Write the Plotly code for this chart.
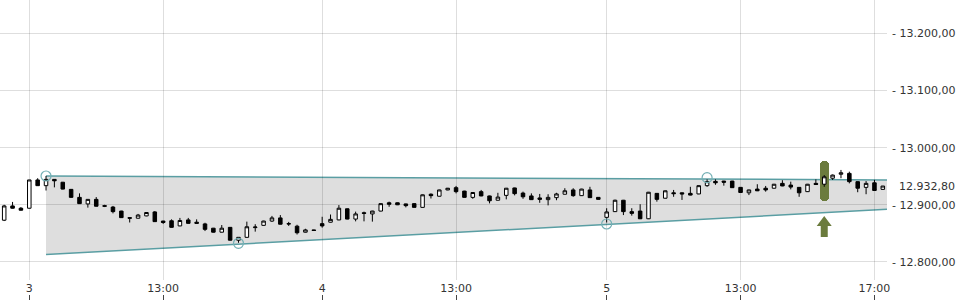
import plotly.graph_objects as go

# ---------------- data ----------------
session_days = ["2", "3", "4", "5"]
session_first_bar = ["17:00", "09:00", "09:00", "09:00"]
session_bar_count = [3, 35, 34, 34]

opens = [12873, 12898, 12894,
         12894, 12943.5, 12933.5, 12944.5, 12939.5, 12927, 12913, 12901.5, 12909.5, 12898.5,
         12896, 12889, 12877.5, 12876.5, 12880.5, 12887.5, 12871.5, 12872, 12863, 12873.5,
         12869.5, 12866.5, 12859, 12852, 12860.5, 12838, 12843, 12860, 12864, 12871.5,
         12877, 12867, 12862.5, 12852, 12856,
         12867, 12869.5, 12873.5, 12893, 12875, 12886, 12884, 12889, 12903.5, 12903.5,
         12901.5, 12902, 12895.5, 12918.5, 12915, 12926, 12930, 12924, 12913, 12923,
         12915.5, 12908, 12916.5, 12929.5, 12920.5, 12915.5, 12912, 12909, 12912.5, 12918.5,
         12926, 12916, 12926, 12913,
         12878, 12888, 12908, 12888, 12889, 12875.5, 12920, 12911.5, 12921, 12921,
         12920, 12919, 12933.5, 12941, 12941.5, 12941.5, 12930.5, 12921, 12927.5, 12929,
         12929, 12937.5, 12934.5, 12930.5, 12923, 12937.5, 12936, 12946.5, 12953.5, 12955,
         12940.5, 12930.5, 12938.5, 12927]
highs = [12900, 12905, 12896,
         12943.5, 12946.5, 12950.5, 12945, 12940, 12927.5, 12920, 12910, 12913.5, 12900,
         12898, 12889.5, 12878.5, 12884, 12887, 12889, 12872, 12874.5, 12877, 12877,
         12874.5, 12868.5, 12859.5, 12864.5, 12861, 12843.5, 12870.5, 12866, 12872, 12880.5,
         12882, 12870, 12865, 12858, 12856.5,
         12879, 12883, 12899.5, 12893.5, 12888, 12888, 12889.5, 12902.5, 12905.5, 12904,
         12902, 12902.5, 12918, 12920, 12926.5, 12929.5, 12933, 12924.5, 12922, 12926,
         12916, 12921, 12929.5, 12930, 12923, 12920, 12919, 12918.5, 12921, 12929,
         12929, 12928, 12931.5, 12913.5,
         12894, 12909, 12908.5, 12894, 12901, 12922.5, 12920.5, 12925, 12926, 12921.5,
         12931.5, 12934, 12944.5, 12944.5, 12942, 12942, 12931, 12926.5, 12936, 12933,
         12936.5, 12943, 12940.5, 12931, 12936.5, 12944.5, 12952, 12953, 12961, 12958,
         12941, 12941.5, 12943.5, 12933]
lows = [12871.5, 12893.5, 12890,
        12893.5, 12933, 12925, 12930.5, 12927, 12912.5, 12901.5, 12895, 12897, 12896,
        12885, 12877, 12869, 12876, 12880, 12870, 12866.5, 12860, 12862.5, 12867,
        12867, 12854, 12851.5, 12851.5, 12837.5, 12833.5, 12842.5, 12853, 12863.5, 12870,
        12865.5, 12863, 12848, 12851.5, 12854.5,
        12860, 12869, 12873, 12874.5, 12871, 12871, 12870.5, 12888.5, 12896.5, 12899.5,
        12895.5, 12895, 12895, 12911, 12914.5, 12925.5, 12920, 12912.5, 12910.5, 12915,
        12902.5, 12907.5, 12909.5, 12916.5, 12910.5, 12908.5, 12903.5, 12899, 12908, 12918,
        12914, 12915.5, 12912, 12909,
        12869, 12887.5, 12882, 12881, 12875, 12875, 12905.5, 12911, 12914, 12908.5,
        12916.5, 12918.5, 12931.5, 12935, 12933.5, 12929.5, 12921, 12917, 12924, 12923,
        12928.5, 12932.5, 12927, 12914, 12922.5, 12935, 12931.5, 12943.5, 12946.5, 12937.5,
        12922, 12918.5, 12924.5, 12926.5]
closes = [12898, 12894, 12890.5,
          12943.5, 12933.5, 12944.5, 12942, 12927.5, 12913, 12902, 12909.5, 12897.5, 12897.5,
          12888, 12877.5, 12876.5, 12882, 12886.5, 12870.5, 12869, 12860.5, 12872.5, 12867.5,
          12867.5, 12857, 12852, 12859, 12838, 12843, 12861.5, 12861, 12871.5, 12877,
          12866, 12866.5, 12851, 12856, 12855,
          12863, 12874.5, 12894, 12875, 12884, 12885, 12889, 12902, 12901, 12900,
          12898.5, 12895.5, 12917.5, 12916, 12926, 12929, 12923, 12913, 12921.5, 12915.5,
          12907, 12913.5, 12929, 12919.5, 12914, 12909, 12909.5, 12913, 12919, 12924.5,
          12916, 12927.5, 12912.5, 12909.5,
          12887.5, 12908, 12888, 12885, 12875.5, 12922, 12909.5, 12924.5, 12919.5, 12919,
          12917, 12933.5, 12940.5, 12938.5, 12939.5, 12930, 12921.5, 12926, 12924.5, 12926,
          12936, 12933, 12931, 12921, 12936, 12935.5, 12949, 12952, 12956, 12940.5,
          12929, 12937.5, 12925, 12932.8]

last_price = 12932.8

# trend channel (anchored at a bar, extended to the right edge)
channel_start_time = "3 09:30"
channel_upper = [12950.5, 12943.5]
channel_lower = [12813.0, 12892.0]

# channel touch points
touch_times = ["3 09:30", "3 15:15", "5 09:00", "5 12:00"]
touch_prices = [12950.4, 12832.6, 12866.4, 12947.5]

# signal
signal_time = "5 15:30"
signal_high = 12976.0
signal_low = 12906.5
signal_arrow_tip = 12880.4

# axis ticks
x_tick_times = ["3 09:00", "3 13:00", "4 09:00", "4 13:00", "5 09:00", "5 13:00", "5 17:00"]
x_tick_labels = ["3", "13:00", "4", "13:00", "5", "13:00", "17:00"]
y_tick_values = [12800, 12900, 13000, 13100, 13200]
y_range = [12768.3, 13258.6]

# ---------------- layout constants ----------------
W, H = 960, 300
M_R = 73
M_B_AXIS = 20
plot_w = W - M_R
plot_h = H - M_B_AXIS

FONT = "DejaVu Sans, sans-serif"
FS = 11
TXT = "#333333"
TEAL = "#5a9ea3"
GREEN = "#6b7b3d"


def de_format(v):
    s = f"{v:,.2f}"
    return s.replace(",", "X").replace(".", ",").replace("X", ".")


# ---------------- build times ----------------
times = []
for d, start, n in zip(session_days, session_first_bar, session_bar_count):
    hh, mm = map(int, start.split(":"))
    t0 = hh * 60 + mm
    for k in range(n):
        t = t0 + 15 * k
        times.append(f"{d} {t // 60:02d}:{t % 60:02d}")
xs = list(range(len(times)))
pos = {t: i for i, t in enumerate(times)}
x_range = [-0.5, len(times) - 0.5]

ux = (x_range[1] - x_range[0]) / plot_w     # data units per px (x)
uy = (y_range[1] - y_range[0]) / plot_h     # data units per px (y)

fig = go.Figure()

# channel fill + lines (below grid)
cx0 = pos[channel_start_time]
cx1 = x_range[1]
path = (f"M {cx0},{channel_upper[0]} L {cx1},{channel_upper[1]} "
        f"L {cx1},{channel_lower[1]} L {cx0},{channel_lower[0]} Z")
fig.add_shape(type="path", path=path, xref="x", yref="y", layer="below",
              fillcolor="#dedede", line=dict(width=0))
for vals in (channel_upper, channel_lower):
    fig.add_shape(type="line", x0=cx0, x1=cx1, y0=vals[0], y1=vals[1],
                  xref="x", yref="y", layer="below",
                  line=dict(color=TEAL, width=1.5))

# signal bar (rounded)
sx = pos[signal_time]
fig.add_trace(go.Bar(x=[sx], y=[signal_high - signal_low], base=[signal_low],
                     width=9 * ux, marker=dict(color=GREEN, cornerradius="50%", line=dict(width=0)),
                     showlegend=False, hoverinfo="skip"))

# candles
fig.add_trace(go.Candlestick(
    x=xs, open=opens, high=highs, low=lows, close=closes,
    increasing=dict(line=dict(color="black", width=1), fillcolor="white"),
    decreasing=dict(line=dict(color="black", width=1), fillcolor="black"),
    whiskerwidth=0, showlegend=False, text=times, hoverinfo="text+y"))

# touch circles
fig.add_trace(go.Scatter(x=[pos[t] for t in touch_times], y=touch_prices, mode="markers",
                         marker=dict(symbol="circle-open", size=10, color="#74b0b5",
                                     line=dict(width=1.2, color="#74b0b5")),
                         showlegend=False, hoverinfo="skip"))

# arrow below the signal
ax_px = [0, 7.5, 3.5, 3.5, -3.5, -3.5, -7.5, 0]
ay_px = [0, 10, 10, 21, 21, 10, 10, 0]
fig.add_trace(go.Scatter(x=[sx + dx * ux for dx in ax_px],
                         y=[signal_arrow_tip - dy * uy for dy in ay_px],
                         mode="lines", fill="toself", fillcolor=GREEN,
                         line=dict(width=0, color=GREEN), showlegend=False, hoverinfo="skip"))

fig.add_annotation(x=1, xref="paper", y=last_price, yref="y", text=de_format(last_price),
                   showarrow=False, xanchor="left", xshift=10,
                   font=dict(family=FONT, size=FS, color=TXT))

fig.update_layout(
    width=W, height=H,
    margin=dict(l=0, r=M_R, t=0, b=0),
    paper_bgcolor="white", plot_bgcolor="white",
    boxgap=0.4,
    bargap=0,
    font=dict(family=FONT, size=FS, color=TXT),
    xaxis=dict(range=x_range, tickvals=[pos[t] for t in x_tick_times], ticktext=x_tick_labels,
               showgrid=True, gridcolor="rgba(0,0,0,0.13)", gridwidth=1, zeroline=False,
               ticks="", showline=False, rangeslider=dict(visible=False),
               tickfont=dict(family=FONT, size=FS, color=TXT), anchor="y"),
    xaxis2=dict(range=x_range, tickvals=[pos[t] for t in x_tick_times], overlaying="x",
                anchor="free", position=0, side="bottom", ticks="inside", ticklen=5,
                tickcolor="#444", tickwidth=1, showticklabels=False, showgrid=False,
                zeroline=False, showline=False),
    yaxis=dict(range=y_range, domain=[M_B_AXIS / H, 1], side="right",
               tickvals=y_tick_values, ticktext=["- " + de_format(v) for v in y_tick_values],
               ticklabelstandoff=4,
               showgrid=True, gridcolor="rgba(0,0,0,0.13)", gridwidth=1, zeroline=False,
               ticks="", showline=False, tickfont=dict(family=FONT, size=FS, color=TXT)),
)
# invisible trace so that xaxis2 renders
fig.add_trace(go.Scatter(x=[x_range[0]], y=[y_range[0]], xaxis="x2", mode="markers",
                         marker=dict(opacity=0), showlegend=False, hoverinfo="skip"))

fig.write_html("out.html")
